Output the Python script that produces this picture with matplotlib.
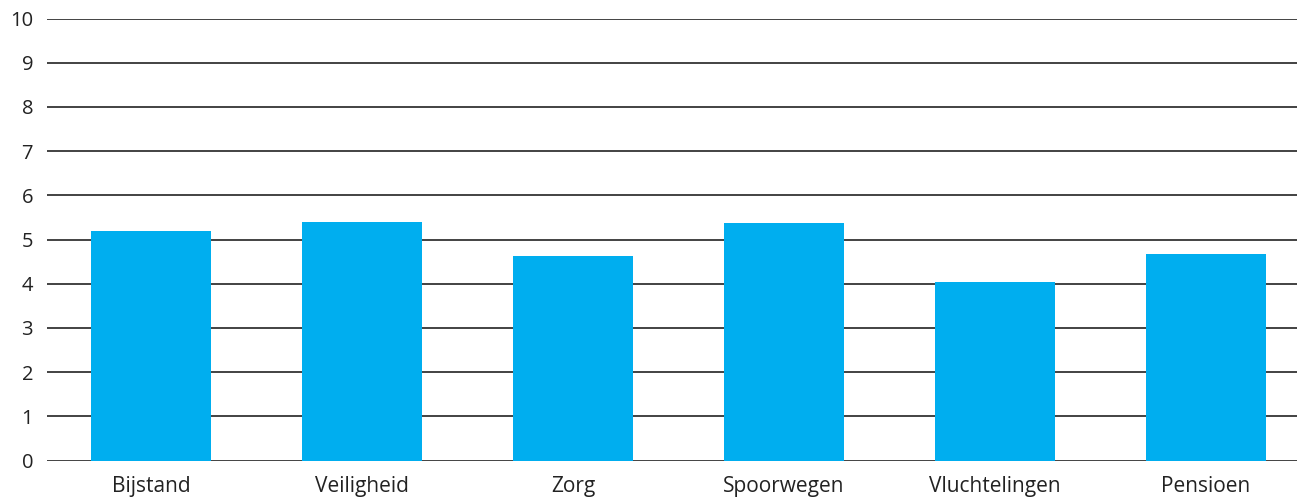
import matplotlib.pyplot as plt
import numpy as np

plt.rcParams['font.family'] = ['Open Sans', 'DejaVu Sans']

categories = ['Bijstand', 'Veiligheid', 'Zorg', 'Spoorwegen', 'Vluchtelingen', 'Pensioen']
values = [5.19, 5.40, 4.63, 5.38, 4.04, 4.67]
yticks = list(range(0, 11))

W, H = 1297, 500
fig = plt.figure(figsize=(W / 100, H / 100), dpi=100)
ax = fig.add_axes([47 / W, 39.5 / H, (W - 47) / W, (460.5 - 18.5) / H])

x = np.arange(len(categories))
ax.bar(x, values, width=0.57, color='#00AEEF', zorder=3)

ax.set_ylim(0, 10)
ax.set_xlim(-0.5 + 1.5 / 211, -0.5 + (W - 45.5) / 211)
ax.set_yticks(yticks)
ax.set_yticklabels([str(t) for t in yticks], fontsize=14.5, color='#222222')
ax.set_xticks(x)
ax.set_xticklabels(categories, fontsize=15, color='#222222')
ax.tick_params(axis='y', length=0, pad=10)
ax.tick_params(axis='x', length=0, pad=11)

ax.grid(axis='y', color='#222222', linewidth=1.2, zorder=0)
for s in ax.spines.values():
    s.set_visible(False)

fig.savefig('out.png', dpi=100)
